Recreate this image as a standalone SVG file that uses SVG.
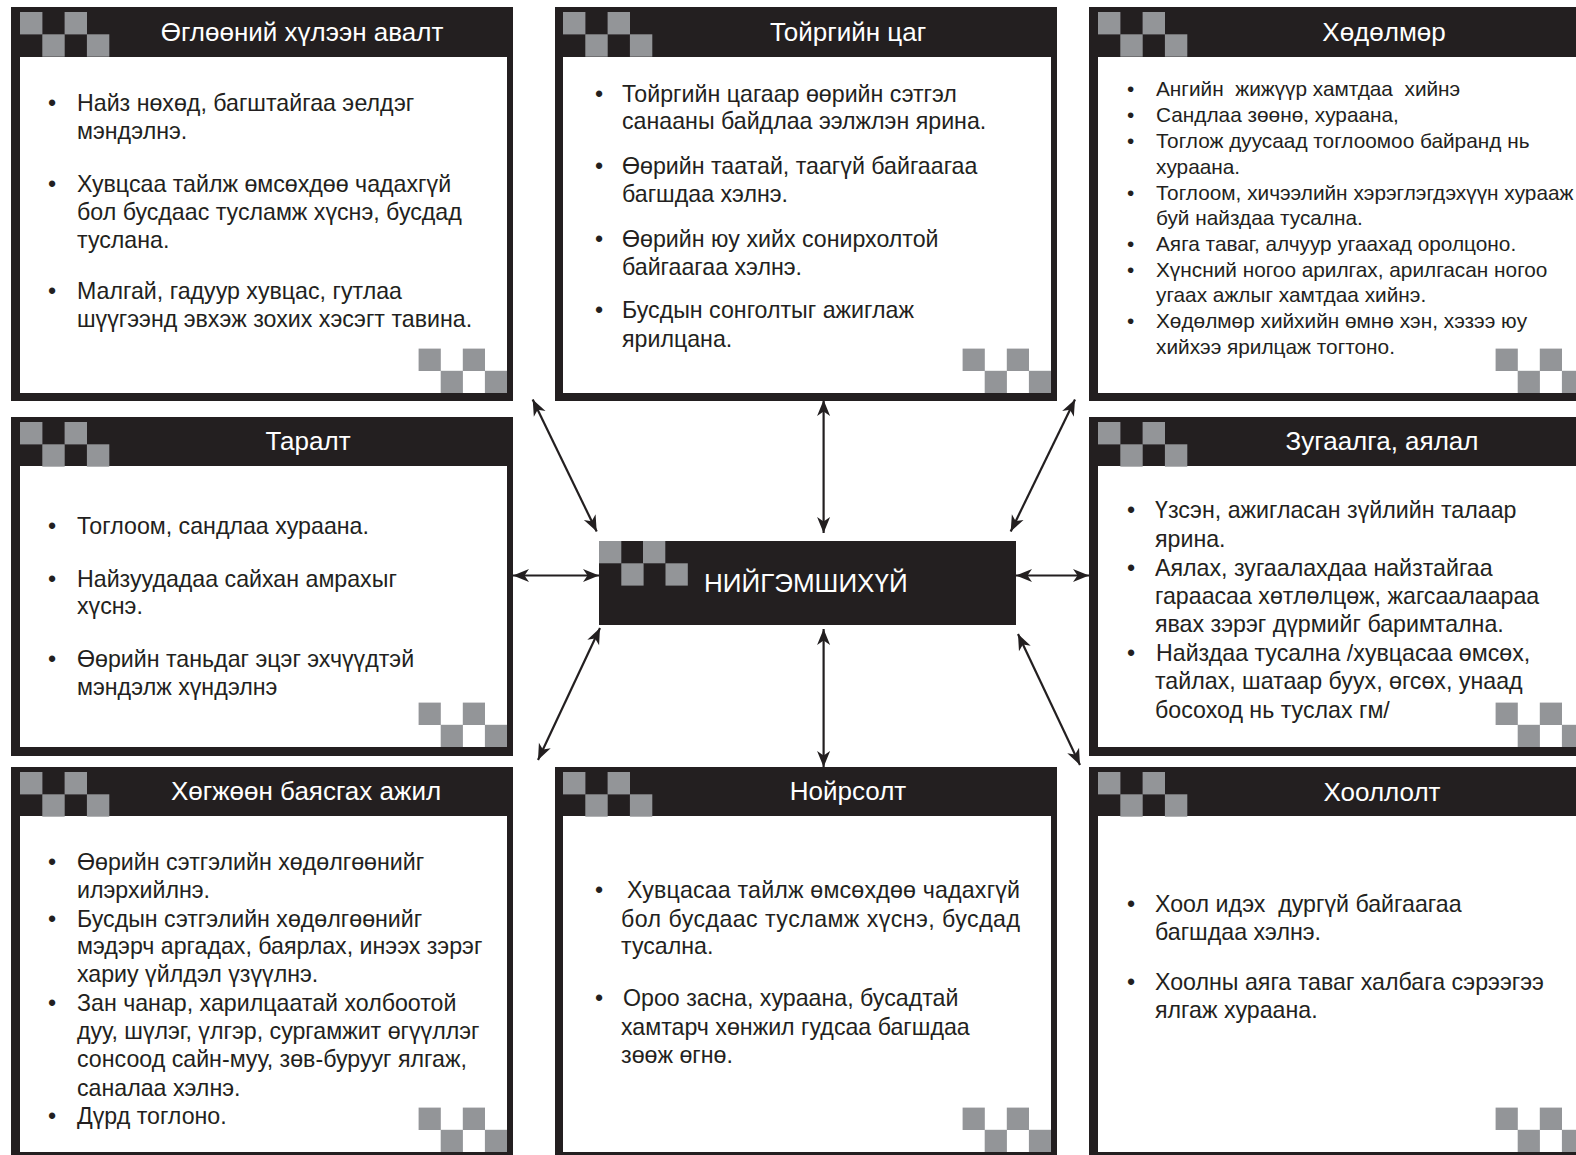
<svg xmlns="http://www.w3.org/2000/svg" xmlns:xlink="http://www.w3.org/1999/xlink" width="1576" height="1155" viewBox="0 0 1576 1155">
<style>
.ob{fill:#231f20}
.in{fill:#ffffff}
.sq{fill:#939598}
.ttl{font-family:"Liberation Sans",Arial,sans-serif;font-size:26px;fill:#ffffff;text-anchor:middle}
.tx{font-family:"Liberation Sans",Arial,sans-serif;font-size:23.2px;fill:#231f20}
.tx2{font-family:"Liberation Sans",Arial,sans-serif;font-size:20.8px;fill:#231f20}
.cn{font-family:"Liberation Sans",Arial,sans-serif;font-size:26px;fill:#ffffff}
.pre{white-space:pre}
.ln{stroke:#231f20;stroke-width:2.2;fill:none;marker-start:url(#ah);marker-end:url(#ah)}
</style>
<defs>
<marker id="ah" viewBox="-17 -8 18 16" refX="0" refY="0" markerWidth="18" markerHeight="16" markerUnits="userSpaceOnUse" orient="auto-start-reverse">
<path d="M0,0 L-16,-6.5 L-11.5,0 L-16,6.5 Z" fill="#231f20"/>
</marker>
<g id="chkTL">
<rect class="sq" x="0" y="0" width="22.4" height="22.4"/>
<rect class="sq" x="44.6" y="0" width="22.4" height="22.4"/>
<rect class="sq" x="22.3" y="22.3" width="22.4" height="22.4"/>
<rect class="sq" x="66.9" y="22.3" width="22.4" height="22.4"/>
</g>
<g id="chkBR">
<rect class="sq" x="-88.4" y="-44.4" width="22.2" height="22.4"/>
<rect class="sq" x="-44.2" y="-44.4" width="22.2" height="22.4"/>
<rect class="sq" x="-66.3" y="-22.2" width="22.2" height="22.2"/>
<rect class="sq" x="-22.1" y="-22.2" width="22.1" height="22.2"/>
</g>
</defs>
<rect x="0" y="0" width="1576" height="1155" fill="#ffffff"/>

<g id="connectors">
<line class="ln" x1="532.7" y1="399.5" x2="596.7" y2="531.5"/>
<line class="ln" x1="823.6" y1="400" x2="823.6" y2="533"/>
<line class="ln" x1="1075" y1="399.5" x2="1010.7" y2="531.5"/>
<line class="ln" x1="513" y1="575.5" x2="599" y2="575.5"/>
<line class="ln" x1="1016" y1="575.5" x2="1089" y2="575.5"/>
<line class="ln" x1="600" y1="628" x2="538" y2="760"/>
<line class="ln" x1="823.6" y1="629" x2="823.6" y2="767"/>
<line class="ln" x1="1018" y1="634" x2="1080" y2="765"/>
</g>

<g id="node-center">
<rect class="ob" x="599" y="541" width="417" height="84"/>
<rect class="sq" x="599" y="541" width="22.3" height="22.3"/>
<rect class="sq" x="643" y="541" width="22.3" height="22.3"/>
<rect class="sq" x="621.3" y="563.3" width="22.3" height="22.3"/>
<rect class="sq" x="665.5" y="563.3" width="22.3" height="22.3"/>
<text class="cn" x="704" y="592">НИЙГЭМШИХҮЙ</text>
</g>

<g id="node-morning">
<rect class="ob" x="11" y="7" width="502" height="394"/>
<rect class="in" x="20" y="57" width="487" height="336"/>
<use xlink:href="#chkTL" x="20" y="12"/>
<use xlink:href="#chkBR" x="507" y="393"/>
<text class="ttl" x="302" y="41">Өглөөний хүлээн авалт</text>
<g class="tx">
<text x="48" y="111">•</text><text x="77" y="111">Найз нөхөд, багштайгаа эелдэг</text>
<text x="77" y="139">мэндэлнэ.</text>
<text x="48" y="192">•</text><text x="77" y="192">Хувцсаа тайлж өмсөхдөө чадахгүй</text>
<text x="77" y="220">бол бусдаас тусламж хүснэ, бусдад</text>
<text x="77" y="248">туслана.</text>
<text x="48" y="299">•</text><text x="77" y="299">Малгай, гадуур хувцас, гутлаа</text>
<text x="77" y="327">шүүгээнд эвхэж зохих хэсэгт тавина.</text>
</g>
</g>

<g id="node-circle">
<rect class="ob" x="555" y="7" width="502" height="394"/>
<rect class="in" x="563" y="57" width="488" height="336"/>
<use xlink:href="#chkTL" x="563" y="12"/>
<use xlink:href="#chkBR" x="1051" y="393"/>
<text class="ttl" x="848" y="41">Тойргийн цаг</text>
<g class="tx">
<text x="595" y="102">•</text><text x="622" y="102">Тойргийн цагаар өөрийн сэтгэл</text>
<text x="622" y="129">санааны байдлаа ээлжлэн ярина.</text>
<text x="595" y="174">•</text><text x="622" y="174">Өөрийн таатай, таагүй байгаагаа</text>
<text x="622" y="202">багшдаа хэлнэ.</text>
<text x="595" y="247">•</text><text x="622" y="247">Өөрийн юу хийх сонирхолтой</text>
<text x="622" y="275">байгаагаа хэлнэ.</text>
<text x="595" y="318">•</text><text x="622" y="318">Бусдын сонголтыг ажиглаж</text>
<text x="622" y="347">ярилцана.</text>
</g>
</g>

<g id="node-labor">
<rect class="ob" x="1089" y="7" width="502" height="394"/>
<rect class="in" x="1098" y="57" width="486" height="336"/>
<use xlink:href="#chkTL" x="1098" y="12"/>
<use xlink:href="#chkBR" x="1584" y="393"/>
<text class="ttl" x="1384" y="41">Хөдөлмөр</text>
<g class="tx2">
<text x="1127" y="96">•</text><text class="pre" x="1156" y="96">Ангийн  жижүүр хамтдаа  хийнэ</text>
<text x="1127" y="122">•</text><text x="1156" y="122">Сандлаа зөөнө, хураана,</text>
<text x="1127" y="148">•</text><text x="1156" y="148">Тоглож дуусаад тоглоомоо байранд нь</text>
<text x="1156" y="174">хураана.</text>
<text x="1127" y="200">•</text><text x="1156" y="200">Тоглоом, хичээлийн хэрэглэгдэхүүн хурааж</text>
<text x="1156" y="225">буй найздаа тусална.</text>
<text x="1127" y="251">•</text><text x="1156" y="251">Аяга таваг, алчуур угаахад оролцоно.</text>
<text x="1127" y="277">•</text><text x="1156" y="277">Хүнсний ногоо арилгах, арилгасан ногоо</text>
<text x="1156" y="302">угаах ажлыг хамтдаа хийнэ.</text>
<text x="1127" y="328">•</text><text x="1156" y="328">Хөдөлмөр хийхийн өмнө хэн, хэзээ юу</text>
<text x="1156" y="354">хийхээ ярилцаж тогтоно.</text>
</g>
</g>

<g id="node-distribution">
<rect class="ob" x="11" y="417" width="502" height="339"/>
<rect class="in" x="20" y="466" width="487" height="281"/>
<use xlink:href="#chkTL" x="20" y="422"/>
<use xlink:href="#chkBR" x="507" y="747"/>
<text class="ttl" x="308" y="450">Таралт</text>
<g class="tx">
<text x="48" y="534">•</text><text x="77" y="534">Тоглоом, сандлаа хураана.</text>
<text x="48" y="587">•</text><text x="77" y="587">Найзуудадаа сайхан амрахыг</text>
<text x="77" y="614">хүснэ.</text>
<text x="48" y="667">•</text><text x="77" y="667">Өөрийн таньдаг эцэг эхчүүдтэй</text>
<text x="77" y="695">мэндэлж хүндэлнэ</text>
</g>
</g>

<g id="node-walk">
<rect class="ob" x="1089" y="417" width="502" height="339"/>
<rect class="in" x="1098" y="466" width="486" height="281"/>
<use xlink:href="#chkTL" x="1098" y="422"/>
<use xlink:href="#chkBR" x="1584" y="747"/>
<text class="ttl" x="1382" y="450">Зугаалга, аялал</text>
<g class="tx">
<text x="1127" y="518">•</text><text x="1155" y="518">Үзсэн, ажигласан зүйлийн талаар</text>
<text x="1155" y="547">ярина.</text>
<text x="1127" y="576">•</text><text x="1155" y="576">Аялах, зугаалахдаа найзтайгаа</text>
<text x="1155" y="604">гараасаа хөтлөлцөж, жагсаалаараа</text>
<text x="1155" y="632">явах зэрэг дүрмийг баримтална.</text>
<text x="1127" y="661">•</text><text x="1156" y="661">Найздаа тусална /хувцасаа өмсөх,</text>
<text x="1155" y="689">тайлах, шатаар буух, өгсөх, унаад</text>
<text x="1155" y="718">босоход нь туслах гм/</text>
</g>
</g>

<g id="node-development">
<rect class="ob" x="11" y="767" width="502" height="393"/>
<rect class="in" x="20" y="816" width="487" height="336"/>
<use xlink:href="#chkTL" x="20" y="772"/>
<use xlink:href="#chkBR" x="507" y="1152"/>
<text class="ttl" x="306" y="800">Хөгжөөн баясгах ажил</text>
<g class="tx">
<text x="48" y="870">•</text><text x="77" y="870">Өөрийн сэтгэлийн хөдөлгөөнийг</text>
<text x="77" y="898">илэрхийлнэ.</text>
<text x="48" y="927">•</text><text x="77" y="927">Бусдын сэтгэлийн хөдөлгөөнийг</text>
<text x="77" y="954">мэдэрч аргадах, баярлах, инээх зэрэг</text>
<text x="77" y="982">хариу үйлдэл үзүүлнэ.</text>
<text x="48" y="1011">•</text><text x="77" y="1011">Зан чанар, харилцаатай холбоотой</text>
<text x="77" y="1039">дуу, шүлэг, үлгэр, сургамжит өгүүллэг</text>
<text x="77" y="1067">сонсоод сайн-муу, зөв-бурууг ялгаж,</text>
<text x="77" y="1096">саналаа хэлнэ.</text>
<text x="48" y="1124">•</text><text x="77" y="1124">Дүрд тоглоно.</text>
</g>
</g>

<g id="node-sleep">
<rect class="ob" x="555" y="767" width="502" height="393"/>
<rect class="in" x="563" y="816" width="488" height="336"/>
<use xlink:href="#chkTL" x="563" y="772"/>
<use xlink:href="#chkBR" x="1051" y="1152"/>
<text class="ttl" x="848" y="800">Нойрсолт</text>
<g class="tx">
<text x="595" y="898">•</text><text x="627" y="898" textLength="393" lengthAdjust="spacing">Хувцасаа тайлж өмсөхдөө чадахгүй</text>
<text x="621" y="927" textLength="399" lengthAdjust="spacing">бол бусдаас тусламж хүснэ, бусдад</text>
<text x="621" y="954">тусална.</text>
<text x="595" y="1006">•</text><text x="623" y="1006">Ороо засна, хураана, бусадтай</text>
<text x="621" y="1035">хамтарч хөнжил гудсаа багшдаа</text>
<text x="621" y="1063">зөөж өгнө.</text>
</g>
</g>

<g id="node-eating">
<rect class="ob" x="1089" y="767" width="502" height="393"/>
<rect class="in" x="1098" y="816" width="486" height="336"/>
<use xlink:href="#chkTL" x="1098" y="772"/>
<use xlink:href="#chkBR" x="1584" y="1152"/>
<text class="ttl" x="1382" y="801">Хооллолт</text>
<g class="tx">
<text x="1127" y="912">•</text><text class="pre" x="1155" y="912">Хоол идэх  дургүй байгаагаа</text>
<text x="1155" y="940">багшдаа хэлнэ.</text>
<text x="1127" y="990">•</text><text x="1155" y="990">Хоолны аяга таваг халбага сэрээгээ</text>
<text x="1155" y="1018">ялгаж хураана.</text>
</g>
</g>
</svg>
